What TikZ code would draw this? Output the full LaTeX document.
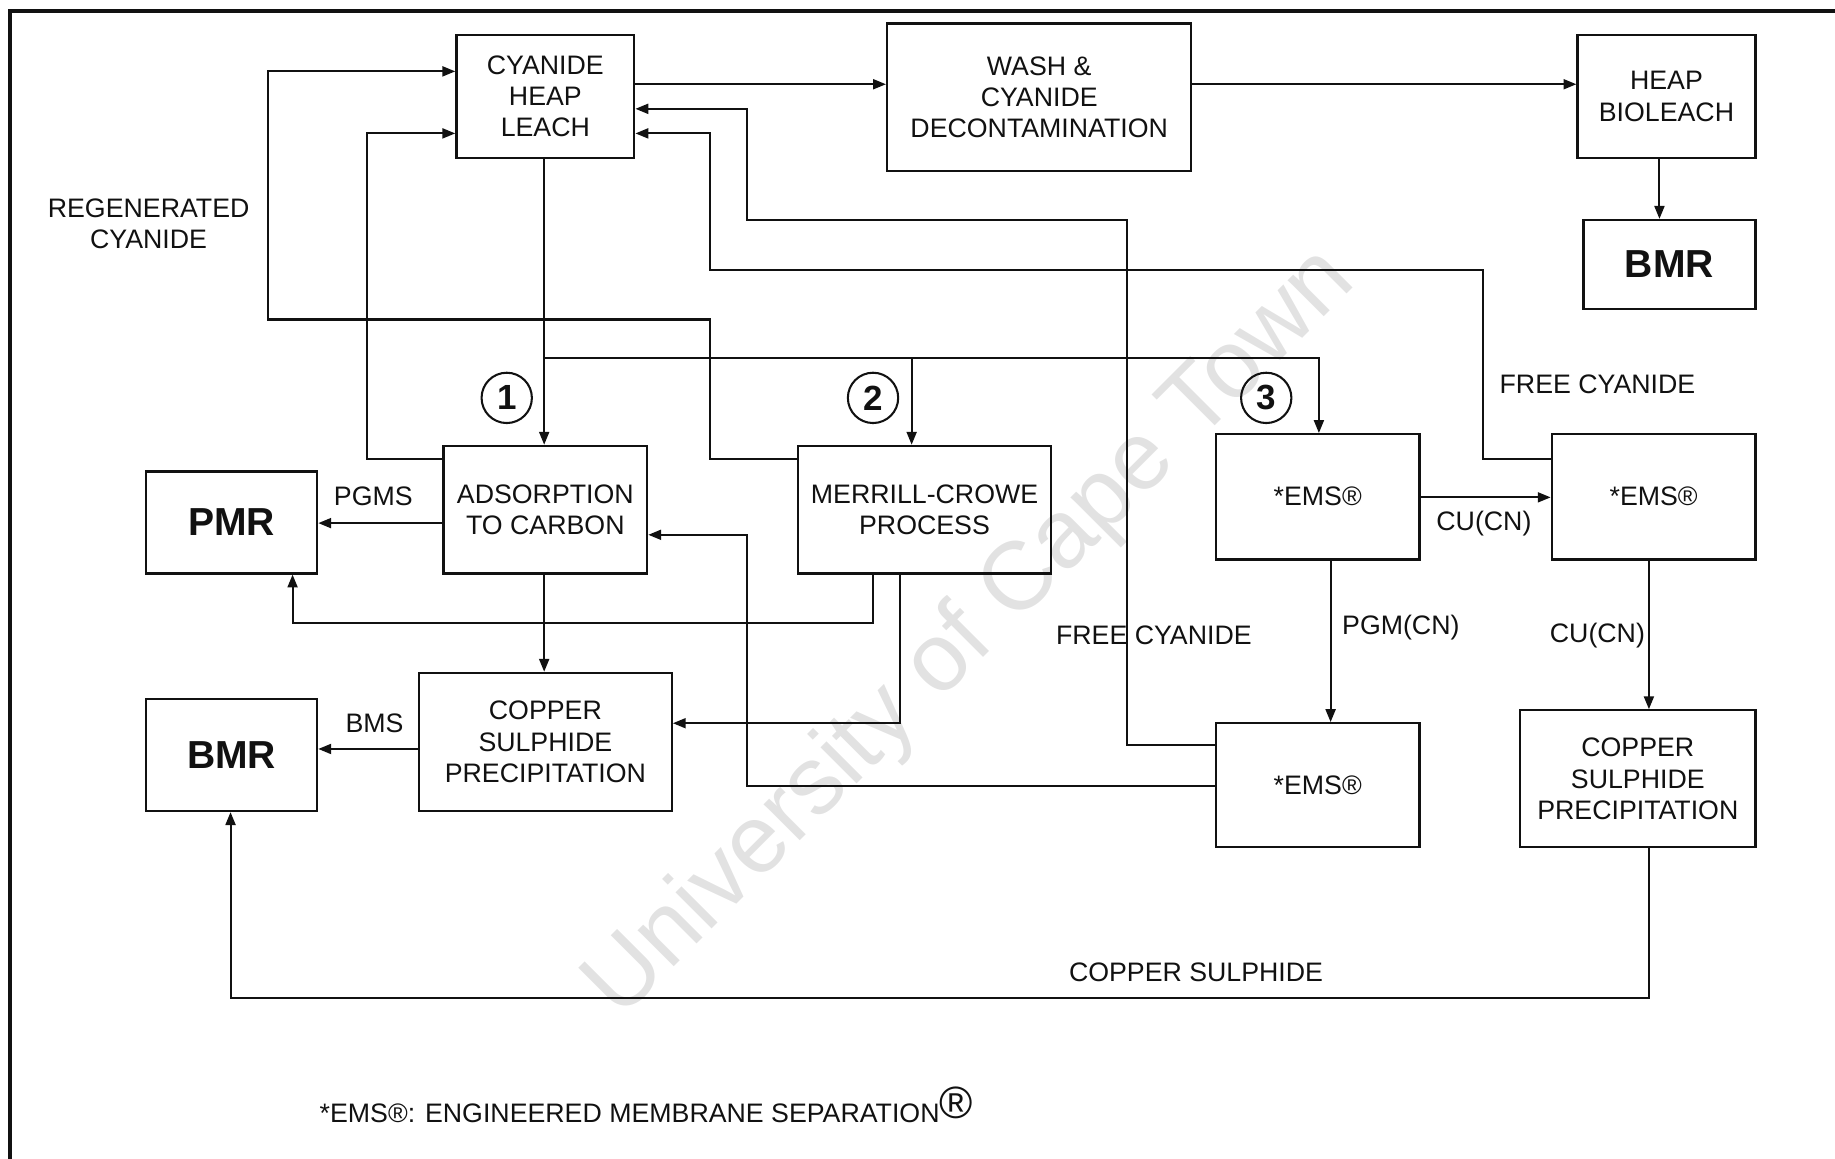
\documentclass[tikz,border=0pt]{standalone}
\usepackage{fontspec}
\setmainfont{Liberation Sans}
\usetikzlibrary{arrows.meta}
\definecolor{hlInk}{HTML}{111111}
\definecolor{hlMark}{HTML}{E2E2E2}
\tikzset{
  hl frame/.style={draw=hlInk, line width=1.1pt},
  hl box/.style={draw=hlInk, line width=0.55pt, align=center, inner sep=1pt, text=hlInk, font=\fontsize{6.5}{7.6}\selectfont},
  hl big/.style={hl box, font=\fontsize{9.5}{11}\selectfont\bfseries},
  hl line/.style={draw=hlInk, line width=0.5pt},
  hl flow/.style={hl line, -{Triangle[length=1.1mm,width=0.85mm]}},
  hl label/.style={align=center, inner sep=1pt, text=hlInk, font=\fontsize{6.5}{7.6}\selectfont},
  hl step/.style={circle, draw=hlInk, line width=0.5pt, minimum size=4.3mm, inner sep=0pt, text=hlInk, font=\fontsize{8.5}{9}\selectfont\bfseries},
  hl mark/.style={rotate=45, text=hlMark, font=\fontsize{23.5}{24}\selectfont},
}

\begin{document}
\begin{tikzpicture}[x=0.1mm,y=-0.1mm]
  \useasboundingbox (0,0) rectangle (1568,990);
  \node[hl mark] (mark) at (830,542) {University of Cape Town};
  \draw[hl frame] (8.5,995) -- (8.5,9.5) -- (1575,9.5);
  % boxes
  \node[hl box,minimum width=15.2mm,minimum height=10.5mm] (chl) at (466,82.5) {CYANIDE\\HEAP\\LEACH};
  \node[hl box,minimum width=26mm,minimum height=12.6mm] (wash) at (888,83) {WASH \&\\CYANIDE\\DECONTAMINATION};
  \node[hl box,minimum width=15.2mm,minimum height=10.5mm] (bio) at (1424,82.5) {HEAP\\BIOLEACH};
  \node[hl big,minimum width=14.7mm,minimum height=7.6mm] (bmrA) at (1426.5,226) {BMR};
  \node[hl box,minimum width=17.4mm,minimum height=10.9mm] (ads) at (466,435.5) {ADSORPTION\\TO CARBON};
  \node[hl box,minimum width=21.6mm,minimum height=10.9mm] (mc) at (790,435.5) {MERRILL-CROWE\\PROCESS};
  \node[hl box,minimum width=17.4mm,minimum height=10.7mm] (emsA) at (1126,424.5) {*EMS®};
  \node[hl box,minimum width=17.4mm,minimum height=10.7mm] (emsB) at (1413,424.5) {*EMS®};
  \node[hl big,minimum width=14.6mm,minimum height=8.7mm] (pmr) at (198,446.5) {PMR};
  \node[hl box,minimum width=21.6mm,minimum height=11.8mm] (cspA) at (466,634) {COPPER\\SULPHIDE\\PRECIPITATION};
  \node[hl big,minimum width=14.6mm,minimum height=9.6mm] (bmrB) at (198,645) {BMR};
  \node[hl box,minimum width=17.4mm,minimum height=10.6mm] (emsC) at (1126,671) {*EMS®};
  \node[hl box,minimum width=20.1mm,minimum height=11.7mm] (cspB) at (1399.5,665.5) {COPPER\\SULPHIDE\\PRECIPITATION};
  \foreach \n/\x in {1/433,2/746,3/1082}{\node[hl step] (s\n) at (\x,340) {\n};}
  % connectors
  \draw[hl flow] (chl.east |- 0,72) -- (wash.west |- 0,72);
  \draw[hl flow] (wash.east |- 0,72) -- (bio.west |- 0,72);
  \draw[hl flow] (bio.south -| 1418,0) -- (bmrA.north -| 1418,0);
  \draw[hl flow] (chl.south -| 465,0) -- (ads.north -| 465,0);
  \coordinate (split) at (465,306);
  \draw[hl flow] (split) -| (mc.north -| 779,0);
  \draw[hl flow] (split) -| (emsA.north -| 1127,0);
  \draw[hl flow] (mc.west |- 0,392) -| (607,273) -| (229,61) -- (chl.west |- 0,61);
  \draw[hl flow] (ads.west |- 0,392) -| (314,114) -- (chl.west |- 0,114);
  \draw[hl flow] (emsC.west |- 0,637) -| (963,188) -| (638,93) -- (chl.east |- 0,93);
  \draw[hl flow] (emsB.west |- 0,392) -| (1267,231) -| (607,114) -- (chl.east |- 0,114);
  \draw[hl flow] (ads.west |- 0,447) -- (pmr.east |- 0,447);
  \draw[hl flow] (mc.south -| 746,0) |- (250,532) -- (pmr.south -| 250,0);
  \draw[hl flow] (ads.south -| 465,0) -- (cspA.north -| 465,0);
  \draw[hl flow] (mc.south -| 769,0) |- (cspA.east |- 0,618);
  \draw[hl flow] (emsC.west |- 0,672) -| (638,457) -- (ads.east |- 0,457);
  \draw[hl flow] (cspA.west |- 0,640) -- (bmrB.east |- 0,640);
  \draw[hl flow] (emsA.east |- 0,425) -- (emsB.west |- 0,425);
  \draw[hl flow] (emsA.south -| 1137,0) -- (emsC.north -| 1137,0);
  \draw[hl flow] (emsB.south -| 1409,0) -- (cspB.north -| 1409,0);
  \draw[hl flow] (cspB.south -| 1409,0) |- (197,853) -- (bmrB.south -| 197,0);
  % labels
  \node[hl label] (regen) at (127,191) {REGENERATED\\CYANIDE};
  \node[hl label] (freeA) at (1365,328) {FREE CYANIDE};
  \node[hl label] (freeB) at (986,543) {FREE CYANIDE};
  \node[hl label] (pgms) at (319,424) {PGMS};
  \node[hl label] (bms) at (320,618) {BMS};
  \node[hl label] (cucnA) at (1268,447) {CU(CN)};
  \node[hl label] (pgmcn) at (1197,536) {PGM(CN)};
  \node[hl label] (cucnB) at (1365,543) {CU(CN)};
  \node[hl label] (cus) at (1022,831) {COPPER SULPHIDE};
  \node[hl label,anchor=west] (note) at (269,944) {*EMS®: ENGINEERED MEMBRANE SEPARATION{\fontsize{11}{11}\selectfont\raisebox{1pt}{®}}};
\end{tikzpicture}
\end{document}
